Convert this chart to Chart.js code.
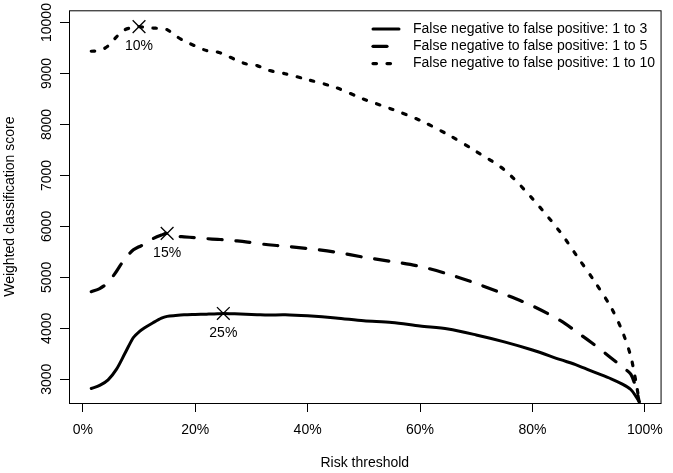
<!DOCTYPE html>
<html>
<head>
<meta charset="utf-8">
<script src="https://cdn.jsdelivr.net/npm/chart.js@4"></script>
<style>
body { margin: 0; background: #fff; }
canvas { display: block; }
</style>
</head>
<body>
<canvas id="chart" width="673" height="473"></canvas>
<script>
// risk threshold in %
let thresholds = [1.5, 3, 4.5, 6, 7.5, 9, 10, 11, 12.5, 14, 15, 16.5, 18, 20, 22, 24, 25, 27, 29, 31, 33, 36, 40, 45, 50, 55, 60, 65, 70, 75, 80, 85, 88, 91, 94, 96, 97.5, 98.5, 99]

let score_1to3 = [2820, 2880, 2990, 3200, 3510, 3820, 3930, 4010, 4110, 4200, 4235, 4252, 4265, 4272, 4278, 4285, 4292, 4285, 4275, 4268, 4262, 4265, 4245, 4205, 4150, 4115, 4045, 3985, 3870, 3735, 3575, 3385, 3275, 3140, 3010, 2905, 2800, 2650, 2560]
let score_1to5 = [4720, 4780, 4900, 5120, 5370, 5540, 5600, 5655, 5760, 5830, 5862, 5810, 5795, 5780, 5760, 5745, 5740, 5720, 5698, 5665, 5640, 5610, 5565, 5495, 5395, 5310, 5215, 5065, 4880, 4670, 4440, 4150, 3920, 3680, 3420, 3240, 3100, 2800, 2560]
let score_1to10 = [9437, 9450, 9540, 9720, 9860, 9905, 9920, 9905, 9892, 9880, 9860, 9740, 9640, 9540, 9450, 9420, 9380, 9280, 9190, 9155, 9065, 8995, 8880, 8725, 8495, 8300, 8080, 7800, 7470, 7110, 6545, 5880, 5404, 4930, 4410, 3940, 3450, 2900, 2560]

let seriesLabels = [
	'False negative to false positive: 1 to 3',
	'False negative to false positive: 1 to 5',
	'False negative to false positive: 1 to 10'
]

// best threshold per series
let bestX = [25, 15, 10]
let bestY = [4292, 5862, 9920]
let bestLabels = ['25%', '15%', '10%']

let xTicks = [0, 20, 40, 60, 80, 100]
let yTicks = [3000, 4000, 5000, 6000, 7000, 8000, 9000, 10000]

const font = "'Liberation Sans', Arial, sans-serif"
const fontSize = 14
const ink = '#000'

function toPoints(ys) {
	return thresholds.map((x, i) => ({ x: x, y: ys[i] }))
}

const dashes = [[], [14, 14], [3.5, 10.5]]
const widths = [3, 3.2, 3.2]

const frame = {
	id: 'frame',
	afterDraw(chart) {
		const c = chart.ctx
		const a = chart.chartArea
		const ys = chart.scales.y
		const xs = chart.scales.x
		c.save()
		c.strokeStyle = ink
		c.lineWidth = 1
		c.strokeRect(a.left + 0.5, a.top + 0.5, a.right - a.left, a.bottom - a.top)

		// y tick labels, rotated like R
		c.fillStyle = ink
		c.font = fontSize + 'px ' + font
		c.textAlign = 'center'
		c.textBaseline = 'middle'
		yTicks.forEach(v => {
			const py = ys.getPixelForValue(v)
			c.save()
			c.translate(47, py)
			c.rotate(-Math.PI / 2)
			c.fillText(String(v), 0, 0)
			c.restore()
		})

		// labels under the X marks
		bestX.forEach((v, i) => {
			c.fillText(bestLabels[i], xs.getPixelForValue(v), ys.getPixelForValue(bestY[i]) + 19.5)
		})

		// legend, top right without a box
		c.textAlign = 'left'
		seriesLabels.forEach((t, i) => {
			const ly = 29 + i * 17.3
			c.save()
			c.lineWidth = widths[i]
			c.lineCap = 'round'
			c.setLineDash(dashes[i])
			c.beginPath()
			c.moveTo(373, ly)
			c.lineTo(399, ly)
			c.stroke()
			c.restore()
			c.fillText(t, 413, ly)
		})
		c.restore()
	}
}

const ctx = document.getElementById('chart').getContext('2d')

const series = [score_1to3, score_1to5, score_1to10]

let datasets = series.map((s, i) => ({
	type: 'line',
	label: seriesLabels[i],
	data: toPoints(s),
	borderColor: ink,
	borderWidth: widths[i],
	borderDash: dashes[i],
	borderCapStyle: 'round',
	borderJoinStyle: 'round',
	pointRadius: 0,
	tension: 0.3,
	fill: false
}))

datasets.push({
	type: 'scatter',
	label: 'best',
	data: bestX.map((x, i) => ({ x: x, y: bestY[i] })),
	pointStyle: 'crossRot',
	pointRadius: 9,
	borderColor: ink,
	borderWidth: 1.3,
	backgroundColor: ink
})

new Chart(ctx, {
	type: 'line',
	data: { datasets: datasets },
	options: {
		responsive: false,
		animation: false,
		layout: { padding: { top: 10, right: 6, left: 0, bottom: 0 } },
		plugins: {
			legend: { display: false },
			tooltip: { enabled: false }
		},
		scales: {
			x: {
				type: 'linear',
				min: -2.46,
				max: 102.8,
				afterBuildTicks: s => { s.ticks = xTicks.map(v => ({ value: v })) },
				afterFit: s => { s.height = 70 },
				border: { display: false },
				grid: { drawOnChartArea: false, drawTicks: true, tickLength: 9, color: ink },
				ticks: {
					color: ink,
					font: { family: font, size: fontSize },
					padding: 10,
					maxRotation: 0,
					callback: v => v + '%'
				},
				title: {
					display: true,
					text: 'Risk threshold',
					color: ink,
					font: { family: font, size: fontSize },
					padding: { top: 0, bottom: 1 }
				}
			},
			y: {
				type: 'linear',
				min: 2535,
				max: 10240,
				afterBuildTicks: s => { s.ticks = yTicks.map(v => ({ value: v })) },
				afterFit: s => { s.width = 69 },
				border: { display: false },
				grid: { drawOnChartArea: false, drawTicks: true, tickLength: 9, color: ink },
				ticks: { display: false },
				title: {
					display: true,
					text: 'Weighted classification score',
					color: ink,
					font: { family: font, size: fontSize },
					padding: { top: 2, bottom: 2 }
				}
			}
		}
	},
	plugins: [frame]
})
</script>
</body>
</html>
